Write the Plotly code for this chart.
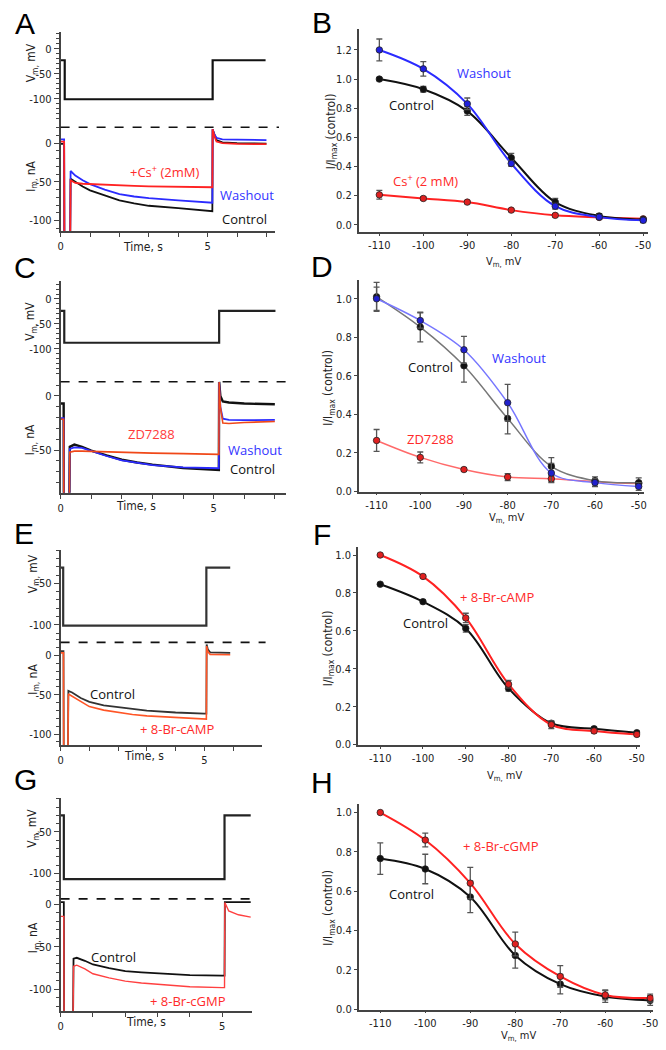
import plotly.graph_objects as go

W, H = 666, 1050

# ---------------- Panel A (current traces, Cs+) ----------------
A_vm_t = [0, 0.14, 0.14, 5.17, 5.17, 6.97]
A_vm = [-23, -23, -101, -101, -23, -23]
A_t = [0, 0.12, 0.13, 0.32, 0.34, 0.5, 0.75, 1.0, 1.5, 2.0, 2.5, 3.0, 4.0, 5.0, 5.16, 5.17, 5.22, 5.3, 5.5, 6.0, 7.0]
A_control = [-1, -1, -160, -160, -46, -50, -56, -61, -68, -74, -78, -81, -84, -87.5, -88, 18, 12, 4, 1, 0, -0.5]
A_washout = [5, 5, -160, -160, -36, -42, -48, -53, -60, -66, -69, -71, -74, -77, -77, 18, 12, 7, 5, 4.5, 4]
A_cs = [2, 2, -160, -160, -48, -51.5, -52.5, -53, -54, -54.5, -55.2, -55.8, -56.6, -57, -57, 18, 10, 2, 0, -1, -1.3]
A_dash = 20.6

# ---------------- Panel C (ZD7288) ----------------
C_vm_t = [0, 0.12, 0.12, 5.18, 5.18, 7.02]
C_vm = [-24, -24, -88, -88, -24, -24]
C_t = [0, 0.1, 0.11, 0.27, 0.3, 0.45, 0.7, 1.0, 1.5, 2.0, 2.5, 3.0, 4.0, 5.0, 5.17, 5.18, 5.22, 5.3, 5.5, 6.0, 7.0]
C_control = [-7, -7, -150, -150, -47, -45, -47, -50.6, -55, -59, -61.5, -63.5, -66.6, -68, -68.5, 13, 0, -5, -6, -7, -7.7]
C_washout = [-20.5, -20.5, -150, -150, -49, -47.5, -48, -51, -55.5, -59.5, -62, -64, -66, -66.6, -66.8, 13, -10, -21, -22, -22.4, -22]
C_zd = [-21.5, -21.5, -150, -150, -52, -51, -51, -51.3, -51.7, -52, -52.4, -52.8, -53.3, -53.7, -54, 13, -10, -25, -25.5, -24.5, -23.6]
C_dash = 13.2

# ---------------- Panel E (8-Br-cAMP) ----------------
E_vm_t = [0, 0.09, 0.09, 5.07, 5.07, 5.9]
E_vm = [-31, -31, -101, -101, -31, -31]
E_t = [0, 0.1, 0.11, 0.25, 0.27, 0.4, 0.7, 1.0, 1.5, 2.0, 2.5, 3.0, 4.0, 5.0, 5.07, 5.08, 5.12, 5.2, 5.5, 5.9]
E_control = [5.5, 5.5, -150, -150, -45, -47, -54, -59, -63.5, -66, -68, -70, -72.5, -74, -74, 14, 8, 4, 3.5, 3.5]
E_camp = [3.4, 3.4, -150, -150, -49, -52, -59, -65, -69.5, -72.6, -75, -76.8, -79, -81, -81, 12, 5, 1.5, 1, 1]
E_dash = 16.8

# ---------------- Panel G (8-Br-cGMP) ----------------
G_vm_t = [0, 0.1, 0.1, 5.07, 5.07, 5.88]
G_vm = [-30, -30, -107, -107, -30, -30]
G_t = [0, 0.1, 0.11, 0.38, 0.4, 0.5, 0.75, 1.0, 1.5, 2.0, 2.5, 3.0, 4.0, 5.0, 5.07, 5.08, 5.12, 5.2, 5.5, 5.88]
G_control = [2.3, 2.3, -160, -160, -64, -63, -66.5, -70.8, -75, -78.6, -80, -81.3, -83.3, -84, -84, 2.3, 2.3, 2.3, 2.3, 2.3]
G_cgmp = [-14.4, -14.4, -160, -160, -73, -71.6, -76, -81.7, -86.5, -90.3, -92.5, -94.2, -96.9, -98, -98, 2, -2, -8, -12.5, -15.2]
G_dash = 6.2

# ---------------- Activation curves (B, D, F, H) ----------------
V_steps = [-110, -100, -90, -80, -70, -60, -50]
V_labels = ["-110", "-100", "-90", "-80", "-70", "-60", "-50"]

B_control = [1.00, 0.93, 0.78, 0.46, 0.155, 0.06, 0.035]
B_control_err = [0.01, 0.02, 0.03, 0.03, 0.025, 0.015, 0.01]
B_washout = [1.20, 1.07, 0.83, 0.42, 0.127, 0.052, 0.03]
B_washout_err = [0.075, 0.05, 0.04, 0.02, 0.02, 0.015, 0.015]
B_cs = [0.205, 0.18, 0.155, 0.10, 0.064, 0.05, 0.04]
B_cs_err = [0.03, 0.01, 0.01, 0.01, 0.01, 0.005, 0.005]

D_control = [1.01, 0.853, 0.652, 0.378, 0.13, 0.055, 0.045]
D_control_err = [0.075, 0.077, 0.085, 0.08, 0.045, 0.02, 0.025]
D_washout = [1.00, 0.887, 0.735, 0.46, 0.095, 0.045, 0.025]
D_washout_err = [0.06, 0.04, 0.07, 0.095, 0.05, 0.02, 0.02]
D_zd = [0.264, 0.176, 0.113, 0.074, 0.065, 0.05, 0.04]
D_zd_err = [0.057, 0.028, 0.01, 0.018, 0.015, 0.01, 0.01]

F_camp = [1.0, 0.887, 0.668, 0.319, 0.105, 0.072, 0.054]
F_camp_err = [0.005, 0.008, 0.025, 0.02, 0.02, 0.01, 0.008]
F_control = [0.846, 0.754, 0.613, 0.297, 0.113, 0.084, 0.063]
F_control_err = [0.005, 0.008, 0.02, 0.015, 0.01, 0.008, 0.006]

H_cgmp = [1.0, 0.86, 0.641, 0.332, 0.167, 0.073, 0.057]
H_cgmp_err = [0.0, 0.035, 0.08, 0.06, 0.055, 0.025, 0.02]
H_control = [0.766, 0.713, 0.571, 0.274, 0.128, 0.065, 0.045]
H_control_err = [0.08, 0.075, 0.08, 0.065, 0.05, 0.03, 0.025]

time_ticks = [0, 1, 2, 3, 4, 5, 6, 7]
time_ticktext = ["0", "", "", "", "", "5", "", ""]
vm_ticks = [0, -50, -100]
vm_ticktext = ["0", "-50", "-100"]
im_ticks = [0, -50, -100]
im_ticktext = ["0", "-50", "-100"]
iv_yticks = [0.0, 0.2, 0.4, 0.6, 0.8, 1.0, 1.2]
iv_yticktext = ["0.0", "0.2", "0.4", "0.6", "0.8", "1.0", "1.2"]

# ---------------- helpers ----------------
FT = "Liberation Sans Narrow, DejaVu Sans Condensed, Arial Narrow, Liberation Sans, Arial, sans-serif"
FL = "Open Sans, Noto Sans, sans-serif"
AX = "#444444"
BLACK = "#111111"
BLUE = "#2b2bff"
RED = "#ff2222"
TICKFONT = dict(family=FT, size=11, color="#222")


def dx(a, b):
    return [a / W, b / W]


def dy(top, bottom):
    return [1 - bottom / H, 1 - top / H]


def px(x):
    return x / W


def py(y):
    return 1 - y / H


fig = go.Figure()
layout = dict(width=W, height=H, margin=dict(l=0, r=0, t=0, b=0),
              paper_bgcolor="white", plot_bgcolor="rgba(0,0,0,0)",
              showlegend=False, annotations=[], shapes=[])

# geometry: (idx, x px range, x max, V dom px, V range, I dom px, I range)
left_geo = [
    (1, (58.3, 275), 7.28, (31.7, 124), (-149.1, 34.4), (124, 232.3), (-113.6, 25.7)),
    (2, (58.3, 286), 7.35, (282.7, 380), (-158.6, 36), (380, 495.7), (-89.6, 16.8)),
    (3, (58.3, 261.7), 6.99, (553.3, 642), (-116.4, -9.9), (642, 749.3), (-113.9, 21.9)),
    (4, (58.3, 251.7), 5.91, (802.7, 900), (-126, -9.2), (900, 1017.3), (-126, 10.9)),
]

for idx, xpx, xmax, vdom, vr, idom, ir in left_geo:
    xa = "xaxis" if idx == 1 else f"xaxis{idx}"
    yv_n = 2 * idx - 1
    yi_n = 2 * idx
    yva = "yaxis" if yv_n == 1 else f"yaxis{yv_n}"
    yia = f"yaxis{yi_n}"
    layout[xa] = dict(domain=dx(*xpx), range=[0, xmax], anchor=f"y{yi_n}",
                      showline=True, linecolor=AX, linewidth=1.5, ticks="outside",
                      ticklen=4, tickcolor=AX, tickwidth=1.2,
                      tickmode="array", tickvals=time_ticks, ticktext=time_ticktext,
                      showgrid=False, zeroline=False, tickfont=TICKFONT)
    common_y = dict(anchor="x" if idx == 1 else f"x{idx}", showline=True, linecolor=AX,
                    linewidth=1.5, ticks="outside", ticklen=5, tickcolor=AX, tickwidth=1.2,
                    showgrid=False, zeroline=False, tickmode="array",
                    minor=dict(dtick=10, tick0=0, ticks="outside", ticklen=2.5,
                               tickcolor=AX, showgrid=False),
                    tickfont=TICKFONT)
    layout[yva] = dict(domain=dy(*vdom), range=list(vr), tickvals=vm_ticks,
                       ticktext=vm_ticktext, **common_y)
    layout[yia] = dict(domain=dy(*idom), range=list(ir), tickvals=im_ticks,
                       ticktext=im_ticktext, **common_y)

right_geo = [
    (5, (360, 653.3), (-114.7, -48.8), (29, 233.3), (-0.05, 1.345)),
    (6, (360, 648.3), (-114.1, -48.9), (281.7, 494.5), (-0.002, 1.097)),
    (7, (359.3, 645), (-115.2, -49.2), (550, 749.3), (-0.002, 1.043)),
    (8, (360, 658.3), (-114.8, -49.3), (808.3, 1015.5), (-0.002, 1.045)),
]
for idx, xpx, xr, ydom, yr in right_geo:
    yn = idx + 4
    layout[f"xaxis{idx}"] = dict(domain=dx(*xpx), range=list(xr), anchor=f"y{yn}",
                                 showline=True, linecolor=AX, linewidth=1.5, ticks="outside",
                                 ticklen=2, tickcolor=AX, tickwidth=1.2,
                                 tickmode="array", tickvals=V_steps, ticktext=V_labels,
                                 showgrid=False, zeroline=False, tickfont=TICKFONT)
    layout[f"yaxis{yn}"] = dict(domain=dy(*ydom), range=list(yr), anchor=f"x{idx}",
                                showline=True, linecolor=AX, linewidth=1.5, ticks="outside",
                                ticklen=3, tickcolor=AX, tickwidth=1.2,
                                tickmode="array", tickvals=iv_yticks, ticktext=iv_yticktext,
                                showgrid=False, zeroline=False, tickfont=TICKFONT)


def add_line(x, y, xa, ya, color, width=1.8):
    fig.add_trace(go.Scatter(x=x, y=y, xaxis=xa, yaxis=ya, mode="lines",
                             line=dict(color=color, width=width), hoverinfo="skip"))


# Left panels: Vm traces
add_line(A_vm_t, A_vm, "x", "y", BLACK, 2.2)
add_line(C_vm_t, C_vm, "x2", "y3", "#222222", 2.2)
add_line(E_vm_t, E_vm, "x3", "y5", "#333333", 2.2)
add_line(G_vm_t, G_vm, "x4", "y7", "#222222", 2.2)

# Left panels: current traces
add_line(A_t, A_control, "x", "y2", BLACK)
add_line(A_t, A_washout, "x", "y2", BLUE)
add_line(A_t, A_cs, "x", "y2", RED)

add_line(C_t, C_control, "x2", "y4", BLACK, 2.4)
add_line(C_t, C_washout, "x2", "y4", BLUE, 1.8)
add_line(C_t, C_zd, "x2", "y4", "#f04818", 1.6)

add_line(E_t, E_control, "x3", "y6", "#333333", 1.8)
add_line(E_t, E_camp, "x3", "y6", "#ff5526", 1.6)

add_line(G_t, G_control, "x4", "y8", BLACK, 1.8)
add_line(G_t, G_cgmp, "x4", "y8", "#ff4040", 1.4)

# dashed reference lines
for xa, ya, val in [("x", "y2", A_dash), ("x2", "y4", C_dash), ("x3", "y6", E_dash), ("x4", "y8", G_dash)]:
    layout["shapes"].append(dict(type="line", xref=f"{xa} domain", x0=0, x1=1.02,
                                 yref=ya, y0=val, y1=val,
                                 line=dict(color="#111", width=1.6, dash="dash")))


def add_iv(y, err, xa, ya, lcolor, mcolor, lw=2.0):
    fig.add_trace(go.Scatter(x=V_steps, y=y, xaxis=xa, yaxis=ya, mode="lines",
                             line=dict(color=lcolor, width=lw, shape="spline", smoothing=1.0),
                             hoverinfo="skip"))
    fig.add_trace(go.Scatter(x=V_steps, y=y, xaxis=xa, yaxis=ya, mode="markers",
                             marker=dict(color=mcolor, size=6.5, line=dict(color="#222", width=0.8)),
                             error_y=dict(type="data", array=err, visible=True,
                                          color="#555", thickness=1.3, width=3),
                             hoverinfo="skip"))


add_iv(B_cs, B_cs_err, "x5", "y9", RED, "#e02020")
add_iv(B_control, B_control_err, "x5", "y9", BLACK, BLACK)
add_iv(B_washout, B_washout_err, "x5", "y9", BLUE, "#2020dd")

add_iv(D_zd, D_zd_err, "x6", "y10", "#ff6a6a", "#e02020", 1.5)
add_iv(D_control, D_control_err, "x6", "y10", "#777777", BLACK, 1.5)
add_iv(D_washout, D_washout_err, "x6", "y10", "#7777ff", "#2020cc", 1.5)

add_iv(F_control, F_control_err, "x7", "y11", BLACK, BLACK)
add_iv(F_camp, F_camp_err, "x7", "y11", RED, "#e02020")

add_iv(H_control, H_control_err, "x8", "y12", BLACK, BLACK)
add_iv(H_cgmp, H_cgmp_err, "x8", "y12", RED, "#e02020")

# ---------------- annotations ----------------
ann = layout["annotations"]


def text(x, y, s, size=13, color="#111", family=FL, angle=0):
    ann.append(dict(x=px(x), y=py(y), xref="paper", yref="paper", text=s, showarrow=False,
                    xanchor="center", yanchor="middle", textangle=angle,
                    font=dict(family=family, size=size, color=color)))


# panel letters
for lab, x, y in [("A", 22.5, 24), ("B", 323, 22.5), ("C", 22.5, 269), ("D", 323, 268),
                  ("E", 21, 537), ("F", 323, 538), ("G", 22.5, 784), ("H", 323, 787)]:
    text(x, y, lab, size=30, color="#000", family="Liberation Sans, Arial, sans-serif")

# left axis titles
for x, yv, yi, yt, xt in [(29, 63, 177, 248, 142), (29, 323, 442, 509, 135),
                          (31, 577, 683, 760, 143), (31, 833, 943, 1028, 145)]:
    text(x, yv, "V<sub>m,</sub> mV", size=12, family=FT, angle=-90, color="#222")
    text(x, yi, "I<sub>m,</sub> nA", size=12, family=FT, angle=-90, color="#222")
    text(xt, yt, "Time, s", size=12, family=FT, color="#222")

# right axis titles
for x, y in [(333, 132), (330, 390), (330, 652), (330, 913)]:
    text(x, y, "I/I<sub>max</sub> (control)", size=12, family=FT, angle=-90, color="#222")
for x, y in [(507, 264), (510, 521), (508, 780), (522, 1042)]:
    text(x, y, "V<sub>m,</sub> mV", size=11, family=FT, color="#222")

# series labels
text(163, 172, "+Cs<sup>+</sup> (2mM)", color="#ff2a2a")
text(247, 196, "Washout", color="#3333ff")
text(244, 220, "Control", color="#111")

text(150, 436, "ZD7288", color="#ff3a3a")
text(255, 453, "Washout", color="#3333ff")
text(253, 472, "Control", color="#111")

text(111, 698, "Control", color="#111")
text(176, 733, "+ 8-Br-cAMP", color="#ff2a2a")

text(112, 963, "Control", color="#111")
text(187, 1007, "+ 8-Br-cGMP", color="#ff2a2a")

text(487, 73, "Washout", color="#3333ff")
text(413, 106, "Control", color="#111")
text(428, 182, "Cs<sup>+</sup> (2 mM)", color="#ff2a2a")

text(522, 360, "Washout", color="#3333ff")
text(433, 369, "Control", color="#111")
text(433, 442, "ZD7288", color="#ff2a2a")

text(500, 600, "+ 8-Br-cAMP", color="#ff2a2a")
text(428, 627, "Control", color="#111")

text(504, 851, "+ 8-Br-cGMP", color="#ff2a2a")
text(413, 899, "Control", color="#111")

fig.update_layout(**layout)
fig.write_html("out.html", config={"displayModeBar": False},
               post_script="document.body.style.margin='0px';document.body.style.padding='0px';document.body.style.overflow='hidden';")
